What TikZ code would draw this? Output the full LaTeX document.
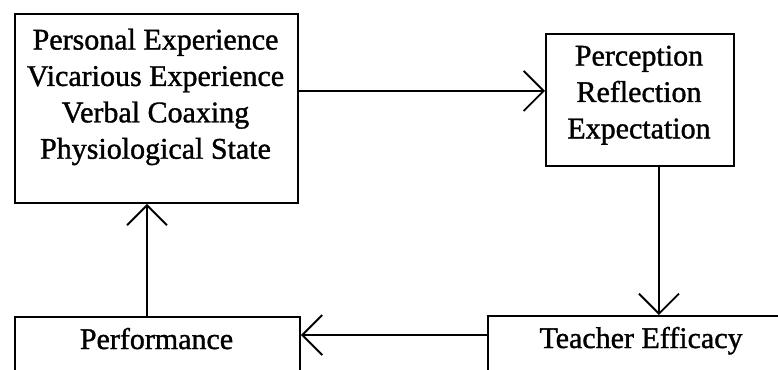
\documentclass[tikz,border=0pt]{standalone}
\usepackage{fontspec}
\setmainfont{Liberation Serif}[FakeBold=1.2]
\usetikzlibrary{arrows.meta}
\tikzset{
  box/.style={draw, line width=1.9pt, rectangle, inner sep=0pt, anchor=north west},
  lbl/.style={inner sep=0pt, align=center, font={\fontsize{30}{36.4}\selectfont}},
  arr/.style={line width=1.9pt, -{Straight Barb[length=20pt, width=40pt, line width=1.9pt]}}
}
\begin{document}
\begin{tikzpicture}[x=1pt, y=-1pt]
\useasboundingbox (0,0) rectangle (778,369);
\clip (0,0) rectangle (778,369);
\fill[white] (0,0) rectangle (778,369);
% boxes
\node[box, minimum width=283pt, minimum height=189pt] (b1) at (14,13) {};
\node[box, minimum width=188pt, minimum height=132pt] (b2) at (545,33) {};
\node[box, minimum width=310pt, minimum height=100pt] (te) at (487,315) {};
\node[box, minimum width=285pt, minimum height=100pt] (perf) at (14,316) {};
% texts
\node[lbl, anchor=north] (t1) at (155.5,28.5) {Personal Experience\\Vicarious Experience\\Verbal Coaxing\\Physiological State};
\node[lbl, anchor=north] (t2) at (639,45.5) {Perception\\Reflection\\Expectation};
\node[lbl, anchor=base] (t3) at (641,348) {Teacher Efficacy};
\node[lbl, anchor=base] (t4) at (156.5,349) {Performance};
% connectors
\draw[arr] ([yshift=17.5pt]b1.east) -- ([yshift=17.5pt]b1.east -| b2.west);
\draw[arr] ([xshift=19pt]b2.south) -- ([xshift=19pt]b2.south |- te.north);
\draw[arr] ([yshift=-20pt]te.north west) -- ([yshift=-20pt]te.north west -| perf.east);
\draw[arr] ([xshift=133pt]perf.north west) -- ([xshift=133pt]perf.north west |- b1.south);
\end{tikzpicture}
\end{document}
